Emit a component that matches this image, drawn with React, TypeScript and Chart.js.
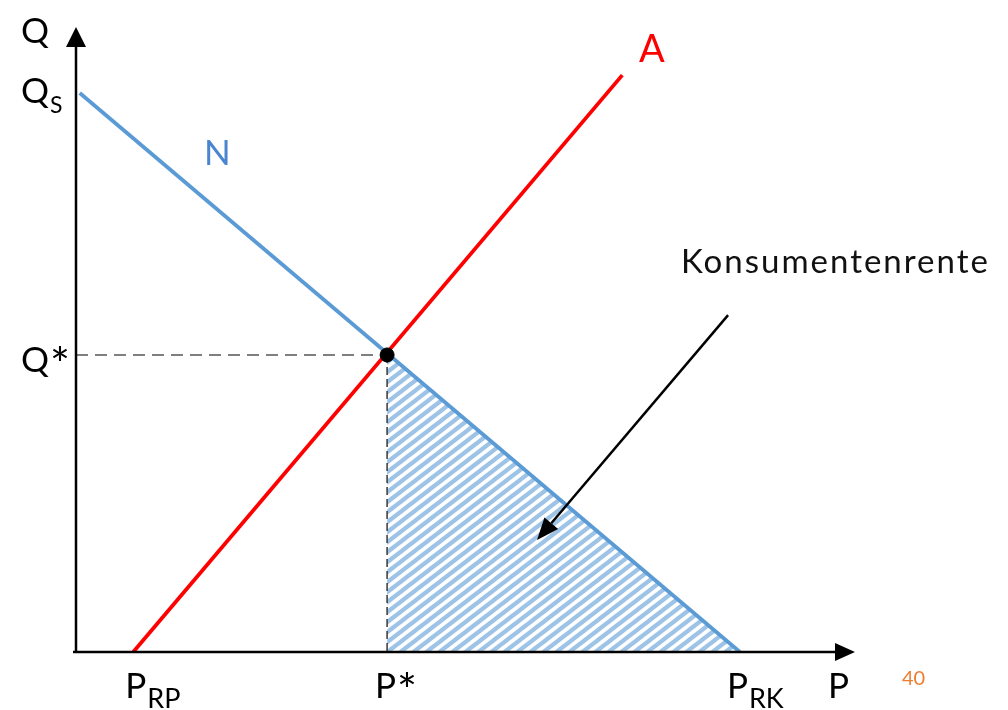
import React, { useEffect, useRef } from "react";
import { Chart, registerables } from "chart.js";
Chart.register(...registerables);

// Axis extents (data units)
const P_MAX = 12.52;
const Q_MAX = 10.52;

// Key values
const P_RP = 0.92;
const P_STAR = 5.0;
const P_RK = 10.67;
const Q_S = 9.41;
const Q_STAR = 5.0;

// Curves
const N_X = [0.06, 10.67];
const N_Y = [9.41, 0];
const A_X = [0.92, 8.78];
const A_Y = [0, 9.71];

// Annotation arrow (start -> end)
const ARROW_X = [10.48, 7.41];
const ARROW_Y = [5.67, 1.885];

// Text
const X_TICK_MAIN = ["P", "P*", "P"];
const X_TICK_SUB = ["RP", "", "RK"];
const X_TICK_VALUES = [P_RP, P_STAR, P_RK];
const Y_TICK_MAIN = ["Q", "Q*"];
const Y_TICK_SUB = ["S", ""];
const Y_TICK_VALUES = [Q_S, Q_STAR];
const AXIS_TITLES = ["P", "Q"];
const CURVE_LABELS = ["N", "A"];
const AREA_LABEL = "Konsumentenrente";
const PAGE_NUMBER = "40";

const FONT = "Lato, 'Open Sans', sans-serif";
const BLUE = "#5B9BD5";
const RED = "#FF0000";

function makePattern(): CanvasPattern | string {
  const W = 13;
  const H = 10;
  const c = document.createElement("canvas");
  c.width = W;
  c.height = H;
  const g = c.getContext("2d");
  if (!g) return "#9DC3E6";
  g.strokeStyle = "#9DC3E6";
  g.lineWidth = 4.2;
  for (let k = -2; k <= 2; k++) {
    g.beginPath();
    g.moveTo(k * W - W, 2 * H);
    g.lineTo(k * W + 2 * W, -H);
    g.stroke();
  }
  const p = g.createPattern(c, "repeat");
  return p || "#9DC3E6";
}

function drawLabel(
  ctx: CanvasRenderingContext2D,
  main: string,
  sub: string,
  x: number,
  baseline: number,
  size: number,
  subSize: number,
  subDrop: number,
  color: string
) {
  ctx.fillStyle = color;
  ctx.textAlign = "left";
  ctx.textBaseline = "alphabetic";
  let text = main;
  const star = text.endsWith("*");
  if (star) text = text.slice(0, -1);
  ctx.font = `${size}px ${FONT}`;
  ctx.fillText(text, x, baseline);
  const w = ctx.measureText(text).width;
  if (star) {
    ctx.font = `${Math.round(size * 1.35)}px ${FONT}`;
    ctx.fillText("*", x + w + 1, baseline + size * 0.26);
  }
  if (sub) {
    ctx.font = `${subSize}px ${FONT}`;
    ctx.fillText(sub, x + w + 1, baseline + subDrop);
  }
}

const econPlugin = {
  id: "econ",
  afterDatasetsDraw(chart: any) {
    const { ctx } = chart;
    const xs = chart.scales.x;
    const ys = chart.scales.y;
    const px = (v: number) => xs.getPixelForValue(v);
    const py = (v: number) => ys.getPixelForValue(v);
    const x0 = px(0);
    const y0 = py(0);
    ctx.save();

    // axes
    ctx.strokeStyle = "#000";
    ctx.fillStyle = "#000";
    ctx.lineWidth = 2.5;
    ctx.lineCap = "butt";
    ctx.beginPath();
    ctx.moveTo(x0 - 3, y0);
    ctx.lineTo(px(P_MAX) - 14, y0);
    ctx.stroke();
    ctx.beginPath();
    ctx.moveTo(x0, y0 + 1);
    ctx.lineTo(x0, py(Q_MAX) + 14);
    ctx.stroke();
    // arrow heads
    const tx = px(P_MAX);
    ctx.beginPath();
    ctx.moveTo(tx, y0);
    ctx.lineTo(tx - 20, y0 - 9);
    ctx.lineTo(tx - 20, y0 + 9);
    ctx.closePath();
    ctx.fill();
    const ty = py(Q_MAX);
    ctx.beginPath();
    ctx.moveTo(x0, ty);
    ctx.lineTo(x0 - 10, ty + 20);
    ctx.lineTo(x0 + 10, ty + 20);
    ctx.closePath();
    ctx.fill();

    // annotation arrow
    const ax1 = px(ARROW_X[0]);
    const ay1 = py(ARROW_Y[0]);
    const ax2 = px(ARROW_X[1]);
    const ay2 = py(ARROW_Y[1]);
    const ang = Math.atan2(ay2 - ay1, ax2 - ax1);
    const hl = 22;
    const hw = 9;
    const bx = ax2 - hl * Math.cos(ang);
    const by = ay2 - hl * Math.sin(ang);
    ctx.lineWidth = 2.5;
    ctx.beginPath();
    ctx.moveTo(ax1, ay1);
    ctx.lineTo(bx, by);
    ctx.stroke();
    ctx.beginPath();
    ctx.moveTo(ax2, ay2);
    ctx.lineTo(bx + hw * Math.sin(ang), by - hw * Math.cos(ang));
    ctx.lineTo(bx - hw * Math.sin(ang), by + hw * Math.cos(ang));
    ctx.closePath();
    ctx.fill();

    // x tick labels
    const xOffsets = [-8, -12, -13];
    for (let i = 0; i < X_TICK_MAIN.length; i++) {
      drawLabel(ctx, X_TICK_MAIN[i], X_TICK_SUB[i], px(X_TICK_VALUES[i]) + xOffsets[i], y0 + 46, 35, 27, 10, "#000");
    }
    // y tick labels
    drawLabel(ctx, Y_TICK_MAIN[0], Y_TICK_SUB[0], 21, py(Y_TICK_VALUES[0]) + 10, 35, 23, 10, "#000");
    drawLabel(ctx, Y_TICK_MAIN[1], Y_TICK_SUB[1], 21, py(Y_TICK_VALUES[1]) + 17, 35, 23, 10, "#000");

    // axis titles
    drawLabel(ctx, AXIS_TITLES[0], "", px(P_MAX) - 27, y0 + 46, 35, 20, 0, "#000");
    drawLabel(ctx, AXIS_TITLES[1], "", 21, py(Q_MAX) + 16, 35, 20, 0, "#000");

    // curve labels
    drawLabel(ctx, CURVE_LABELS[0], "", 204, 165, 35, 20, 0, "#4A86CF");
    drawLabel(ctx, CURVE_LABELS[1], "", 639, 62, 38, 20, 0, RED);

    // area label
    (ctx as any).letterSpacing = "2px";
    drawLabel(ctx, AREA_LABEL, "", 681, 273, 33, 20, 0, "#111");
    (ctx as any).letterSpacing = "0px";

    // page number
    drawLabel(ctx, PAGE_NUMBER, "", 902, 685, 20, 12, 0, "#ED7D31");

    ctx.restore();
  },
};

export default function App() {
  const ref = useRef<HTMLCanvasElement>(null);
  useEffect(() => {
    if (!ref.current) return;
    const pattern = makePattern();
    const chart = new Chart(ref.current, {
      type: "scatter",
      data: {
        datasets: [
          {
            label: "Konsumentenrente",
            data: [
              { x: P_STAR, y: Q_STAR },
              { x: P_RK, y: 0 },
            ],
            showLine: true,
            fill: "origin",
            backgroundColor: pattern as any,
            borderWidth: 0,
            borderColor: "rgba(0,0,0,0)",
            pointRadius: 0,
            order: 6,
          },
          {
            label: "Q* dashed",
            data: [
              { x: 0, y: Q_STAR },
              { x: P_STAR, y: Q_STAR },
            ],
            showLine: true,
            borderColor: "#555555",
            borderWidth: 1.6,
            borderDash: [12, 7],
            pointRadius: 0,
            order: 5,
          },
          {
            label: "P* dashed",
            data: [
              { x: P_STAR, y: Q_STAR },
              { x: P_STAR, y: 0 },
            ],
            showLine: true,
            borderColor: "#444444",
            borderWidth: 1.6,
            borderDash: [8, 4],
            pointRadius: 0,
            order: 4,
          },
          {
            label: "N",
            data: N_X.map((x, i) => ({ x, y: N_Y[i] })),
            showLine: true,
            borderColor: BLUE,
            borderWidth: 3.8,
            pointRadius: 0,
            order: 3,
          },
          {
            label: "A",
            data: A_X.map((x, i) => ({ x, y: A_Y[i] })),
            showLine: true,
            borderColor: RED,
            borderWidth: 3.8,
            pointRadius: 0,
            order: 2,
          },
          {
            label: "Gleichgewicht",
            data: [{ x: P_STAR, y: Q_STAR }],
            showLine: false,
            backgroundColor: "#000",
            borderColor: "#000",
            pointRadius: 7,
            order: 1,
          },
        ],
      },
      options: {
        animation: false,
        responsive: false,
        layout: { padding: { left: 76, right: 153, top: 27, bottom: 58 } },
        plugins: {
          legend: { display: false },
          tooltip: { enabled: false },
        },
        scales: {
          x: { type: "linear", min: 0, max: P_MAX, display: false },
          y: { type: "linear", min: 0, max: Q_MAX, display: false },
        },
      },
      plugins: [econPlugin],
    });
    return () => chart.destroy();
  }, []);
  return (
    <div style={{ position: "fixed", left: 0, top: 0, width: 1008, height: 710, background: "#fff" }}>
      <canvas ref={ref} width={1008} height={710} style={{ display: "block" }} />
    </div>
  );
}
